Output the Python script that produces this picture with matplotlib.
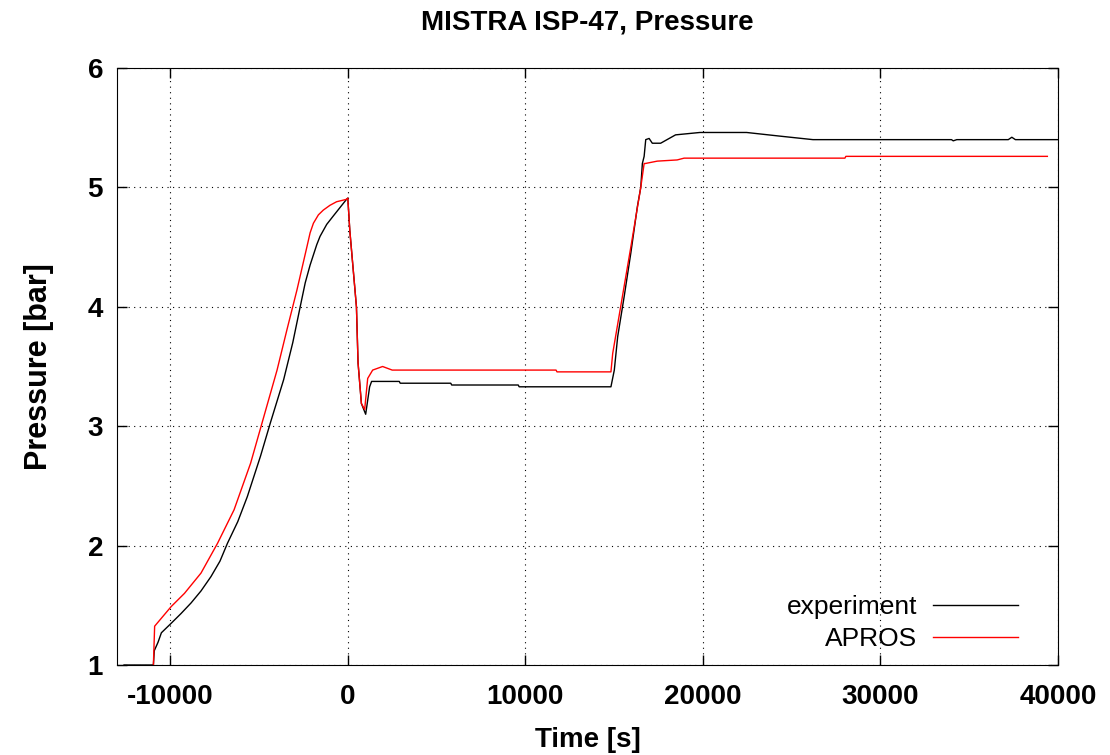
import matplotlib
matplotlib.use("Agg")
import matplotlib.pyplot as plt

# experiment (black)
exp_t = [-12600, -10950, -10900, -10690, -10500, -9944, -9400, -8827, -8270, -7709,
         -7200, -6777, -6200, -5660, -4916, -4358, -3613, -3100, -2682, -2400,
         -2123, -1750, -1564, -1190, -821, -447, -73, 0, 112, 486,
         577, 765, 1006, 1229, 1340, 2900, 2950, 5800, 5850, 9600,
         9650, 14820, 15010, 15200, 15570, 15940, 16310, 16500, 16590, 16690,
         16780, 16970, 17150, 17620, 18460, 19830, 22460, 24300, 26200, 30000,
         34000, 34100, 34300, 37200, 37400, 37600, 40000]
exp_p = [1.0, 1.0, 1.12, 1.19, 1.27, 1.35, 1.43, 1.52, 1.62, 1.74,
         1.87, 2.02, 2.20, 2.41, 2.75, 3.03, 3.39, 3.70, 4.00, 4.20,
         4.35, 4.52, 4.59, 4.69, 4.76, 4.83, 4.90, 4.91, 4.64, 4.0,
         3.53, 3.19, 3.10, 3.33, 3.375, 3.375, 3.36, 3.36, 3.345, 3.345,
         3.33, 3.33, 3.47, 3.75, 4.09, 4.45, 4.84, 5.0, 5.20, 5.26,
         5.40, 5.41, 5.37, 5.37, 5.44, 5.46, 5.46, 5.43, 5.40, 5.40,
         5.40, 5.39, 5.40, 5.40, 5.42, 5.40, 5.40]

# APROS (red)
apros_t = [-10950, -10880, -9944, -9200, -8268, -7335, -6406, -5475, -4730, -3985,
           -3425, -2866, -2307, -2123, -1937, -1657, -1380, -1006, -631, -73,
           0, 112, 486, 577, 765, 950, 1120, 1400, 1960, 2500,
           11730, 11780, 14820, 14920, 15940, 16500, 16690, 16750, 17430, 18550,
           18940, 28000, 28050, 39400]
apros_p = [1.0, 1.325, 1.49, 1.60, 1.77, 2.02, 2.30, 2.69, 3.08, 3.47,
           3.81, 4.14, 4.50, 4.62, 4.70, 4.77, 4.81, 4.85, 4.88, 4.90,
           4.91, 4.64, 4.0, 3.53, 3.19, 3.14, 3.40, 3.47, 3.50, 3.47,
           3.47, 3.455, 3.455, 3.61, 4.50, 5.0, 5.20, 5.20, 5.22, 5.23,
           5.245, 5.245, 5.26, 5.26]

x_ticks = [-10000, 0, 10000, 20000, 30000, 40000]
y_ticks = [1, 2, 3, 4, 5, 6]

plt.rcParams["font.family"] = ["Liberation Sans", "DejaVu Sans"]
plt.rcParams["axes.unicode_minus"] = False

fig = plt.figure(figsize=(11.1, 7.55), dpi=100)
ax = fig.add_axes([117 / 1110, 1 - 665 / 755, (1058 - 117) / 1110, (665 - 68) / 755])

ax.plot(exp_t, exp_p, color="black", lw=1.0, label="experiment")
ax.plot(apros_t, apros_p, color="red", lw=1.0, label="APROS")

ax.set_xlim(-13000, 40000)
ax.set_ylim(1, 6)
ax.set_xticks(x_ticks)
ax.set_yticks(y_ticks)
ax.grid(True, color="black", linestyle=(0, (1, 4)), linewidth=0.8)
ax.tick_params(direction="in", length=7, width=1, top=True, right=True,
               labelsize=20, pad=10)
for lab in ax.get_xticklabels() + ax.get_yticklabels():
    lab.set_fontweight("bold")
ax.xaxis.set_tick_params(pad=14)

ax.set_title("MISTRA ISP-47, Pressure", fontsize=20, fontweight="bold", pad=28)
ax.set_xlabel("Time [s]", fontsize=20, fontweight="bold", labelpad=12)
ax.set_ylabel("Pressure [bar]", fontsize=22, fontweight="bold", labelpad=24)

ax.legend(loc="lower right", bbox_to_anchor=(0.957, 0.023), frameon=False,
          markerfirst=False, fontsize=19, handlelength=3.2, handletextpad=0.6,
          labelspacing=0.3, borderaxespad=0, borderpad=0)

fig.savefig("out.png", dpi=100)
